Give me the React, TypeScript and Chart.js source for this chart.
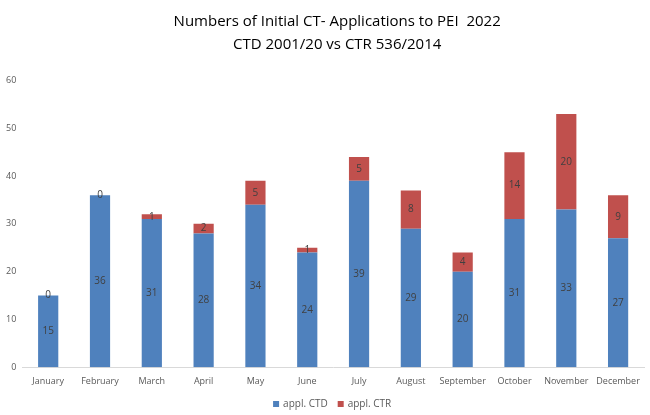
import React, { useEffect, useRef } from "react";
import { Chart, registerables } from "chart.js";

Chart.register(...registerables);

const months = ["January", "February", "March", "April", "May", "June", "July", "August", "September", "October", "November", "December"];
const ctdValues = [15, 36, 31, 28, 34, 24, 39, 29, 20, 31, 33, 27];
const ctrValues = [0, 0, 1, 2, 5, 1, 5, 8, 4, 14, 20, 9];
const titleLines = ["Numbers of Initial CT- Applications to PEI  2022", "CTD 2001/20 vs CTR 536/2014"];
const FONT = "'Open Sans', 'Noto Sans', sans-serif";

const segmentLabels = {
  id: "segmentLabels",
  afterDatasetsDraw(chart: any) {
    const ctx = chart.ctx;
    ctx.save();
    ctx.font = `10px ${FONT}`;
    ctx.fillStyle = "#404040";
    ctx.textAlign = "center";
    ctx.textBaseline = "middle";
    chart.data.datasets.forEach((ds: any, di: number) => {
      const meta = chart.getDatasetMeta(di);
      meta.data.forEach((bar: any, i: number) => {
        const y = (bar.y + bar.base) / 2;
        ctx.fillText(String(ds.data[i]), bar.x, y);
      });
    });
    ctx.restore();
  },
};

const titleAndLegend = {
  id: "titleAndLegend",
  afterDraw(chart: any) {
    const ctx = chart.ctx;
    ctx.save();
    ctx.font = `15px ${FONT}`;
    ctx.fillStyle = "#000000";
    ctx.textAlign = "center";
    ctx.textBaseline = "middle";
    const cx = (chart.chartArea.left + chart.chartArea.right) / 2 + 4;
    titleLines.forEach((line, i) => ctx.fillText(line, cx, 22 + i * 23));

    // legend
    ctx.font = `10px ${FONT}`;
    ctx.textAlign = "left";
    const items = chart.data.datasets.map((ds: any) => ({ label: ds.label, color: ds.backgroundColor }));
    const box = 6;
    const gapBoxText = 4;
    const gapItems = 10;
    const widths = items.map((it: any) => box + gapBoxText + ctx.measureText(it.label).width);
    const total = widths.reduce((a: number, b: number) => a + b, 0) + gapItems * (items.length - 1);
    let x = cx - 5 - total / 2;
    const y = 404;
    items.forEach((it: any, i: number) => {
      ctx.fillStyle = it.color;
      ctx.fillRect(x, y - box / 2, box, box);
      ctx.fillStyle = "#595959";
      ctx.fillText(it.label, x + box + gapBoxText, y);
      x += widths[i] + gapItems;
    });
    ctx.restore();
  },
};

export default function App() {
  const ref = useRef<HTMLCanvasElement | null>(null);
  useEffect(() => {
    document.body.style.margin = "0";
    const chart = new Chart(ref.current!, {
      type: "bar",
      data: {
        labels: months,
        datasets: [
          { label: "appl. CTD", data: ctdValues, backgroundColor: "#4F81BD", barPercentage: 0.78, categoryPercentage: 0.5 },
          { label: "appl. CTR", data: ctrValues, backgroundColor: "#C0504D", barPercentage: 0.78, categoryPercentage: 0.5 },
        ],
      },
      options: {
        animation: false,
        responsive: false,
        layout: { padding: { top: 12, left: 0, right: 6, bottom: 19 } },
        plugins: {
          title: {
            display: true,
            text: titleLines,
            color: "rgba(0,0,0,0)",
            font: { family: FONT, size: 15, weight: "normal", lineHeight: 1.55 },
            padding: { top: 0, bottom: 22 },
          },
          legend: { display: false },
          tooltip: { enabled: false },
        },
        scales: {
          x: {
            stacked: true,
            grid: { display: false, drawTicks: false },
            border: { display: true, color: "#D9D9D9" },
            ticks: { color: "#595959", font: { family: FONT, size: 9 }, padding: 9, maxRotation: 0, autoSkip: false },
          },
          y: {
            stacked: true,
            min: 0,
            max: 60,
            grid: { display: false, drawTicks: false },
            border: { display: false },
            ticks: { stepSize: 10, color: "#595959", font: { family: FONT, size: 9 }, padding: 6 },
          },
        },
      },
      plugins: [segmentLabels, titleAndLegend],
    });
    return () => chart.destroy();
  }, []);
  return (
    <div style={{ width: 650, height: 415 }}>
      <canvas ref={ref} width={650} height={415} style={{ display: "block" }} />
    </div>
  );
}
